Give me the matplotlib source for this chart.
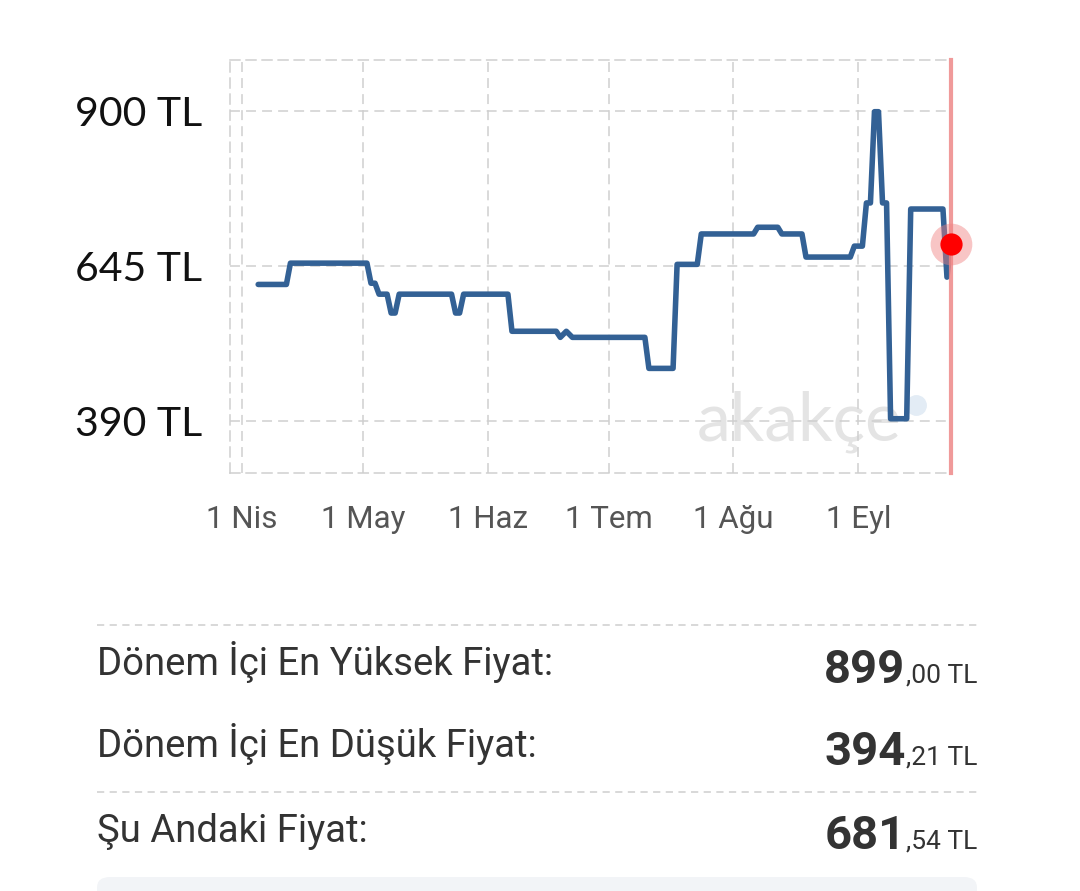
import matplotlib.pyplot as plt
from matplotlib.lines import Line2D
from matplotlib.patches import FancyBboxPatch

# price history, day offsets counted from 1 Nis
days = [4, 11, 12, 31, 32, 33, 34, 36, 37, 38, 39, 52, 53, 54, 55, 66, 67,
        78, 79, 80.5, 82, 100, 101, 107, 108, 113, 114, 127, 128, 133, 134,
        139, 140, 151, 152, 154, 155, 156, 157, 158, 159, 160, 161, 165, 166,
        174, 175, 176]
prices = [615, 615, 650, 650, 617, 617, 599, 599, 568, 568, 599, 599, 568,
          568, 599, 599, 538, 538, 528, 538, 528, 528, 477, 477, 648, 648,
          698, 698, 709, 709, 698, 698, 660, 660, 678, 678, 749, 749, 899.00,
          899.00, 749, 749, 394.21, 394.21, 739, 739, 627, 681.54]

month_ticks = [0, 30, 61, 91, 122, 153]
month_labels = ['1 Nis', '1 May', '1 Haz', '1 Tem', '1 Ağu', '1 Eyl']
price_ticks = [390, 645, 900]
row_labels = ['Dönem İçi En Yüksek Fiyat:', 'Dönem İçi En Düşük Fiyat:', 'Şu Andaki Fiyat:']
row_values = [max(prices), min(prices), prices[-1]]

W, H = 1080, 891
fig = plt.figure(figsize=(W / 100, H / 100), dpi=100)
fig.patch.set_facecolor('white')

def fx(px):
    return px / W

def fy(py):
    return 1 - py / H

ax = fig.add_axes([fx(230), fy(473), fx(951) - fx(230), fy(60) - fy(473)])

grid_kw = dict(color='#cfcfcf', linewidth=1.1, linestyle=(0, (6.5, 4)))
ax.plot(days, prices, color='#336195', linewidth=4,
        solid_joinstyle='round', solid_capstyle='round', zorder=3)
ax.set_xlim(-3, 176)
ax.set_ylim(305, 984)

ax.axvline(176, color='#ee8888', linewidth=3, alpha=0.85, zorder=4, clip_on=False)
ax.plot(days[-1], prices[-1], 'o', color='#f08080', alpha=0.45, markersize=30,
        markeredgewidth=0, zorder=5, clip_on=False)
ax.plot(days[-1], prices[-1], 'o', color='#ff0000', markersize=16,
        markeredgewidth=0, zorder=6, clip_on=False)

ax.set_xticks(month_ticks)
ax.set_xticklabels(month_labels, fontfamily='Roboto', fontsize=22.5, color='#555555')
ax.set_yticks(price_ticks)
ax.set_yticklabels([f'{p} TL' for p in price_ticks], fontfamily='Lato', fontsize=29.5, color='#111111')
ax.tick_params(axis='x', length=0, pad=23)
ax.tick_params(axis='y', length=0, pad=20)
ax.grid(True, **grid_kw)
for side in ['left', 'top', 'bottom']:
    ax.spines[side].set_color('#cfcfcf')
    ax.spines[side].set_linewidth(1.1)
    ax.spines[side].set_linestyle((0, (6.5, 4)))
ax.spines['right'].set_visible(False)

# watermark
ax.text(0.79, 0.125, 'akakçe', transform=ax.transAxes, fontfamily='Lato',
        fontsize=49, color='#e4e4e4', ha='center', va='center', zorder=1)
ax.plot(0.952, 0.165, 'o', transform=ax.transAxes, color='#e3ecf5',
        markersize=14, zorder=1)

# summary table under the chart
for py in [625, 792]:
    fig.add_artist(Line2D([fx(97), fx(977)], [fy(py), fy(py)], color='#d6d6d6',
                          linewidth=1.3, linestyle=(0, (4, 3))))
fig.add_artist(FancyBboxPatch((fx(97), fy(905)), fx(977) - fx(97), fy(877) - fy(905),
                              boxstyle='round,pad=0,rounding_size=0.012',
                              facecolor='#f2f4f7', edgecolor='none',
                              transform=fig.transFigure))

left_base = [675, 757, 842]
right_base = [683, 765, 849]
fig.canvas.draw()
renderer = fig.canvas.get_renderer()
for label, value, lb, rb in zip(row_labels, row_values, left_base, right_base):
    fig.text(fx(97), fy(lb), label, fontfamily='Roboto', fontsize=27.5,
             color='#333333', ha='left', va='baseline')
    whole = int(value)
    cents = round((value - whole) * 100)
    small = fig.text(fx(977), fy(rb), f',{cents:02d} TL', fontfamily='Roboto',
                     fontsize=19, color='#333333', ha='right', va='baseline')
    bb = small.get_window_extent(renderer=renderer)
    fig.text(bb.x0 / W, fy(rb), f'{whole}', fontfamily='Roboto', fontweight='bold',
             fontsize=34, color='#333333', ha='right', va='baseline')

fig.savefig('out.png', dpi=100)
